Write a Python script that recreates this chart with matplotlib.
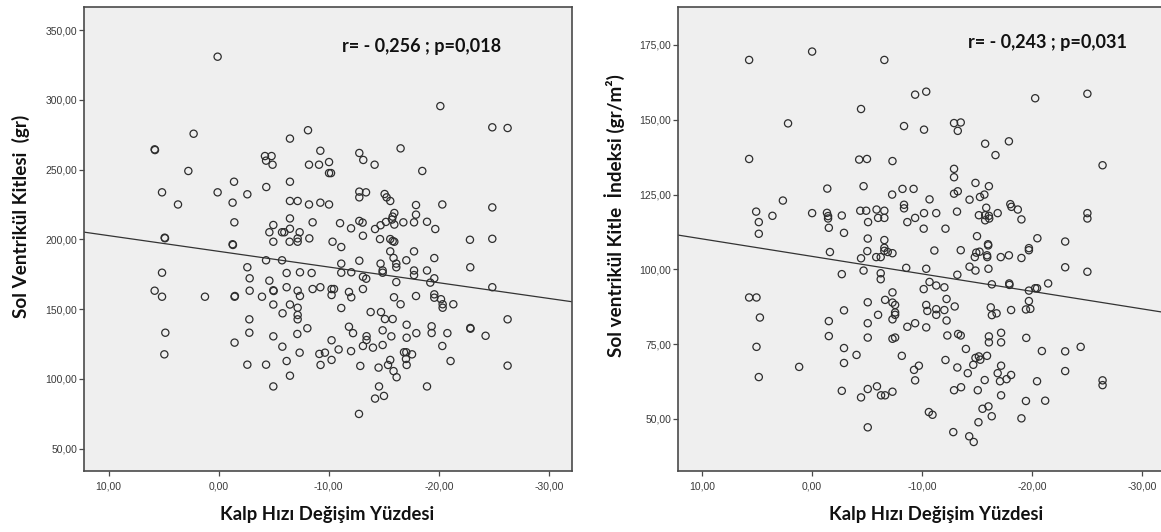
import numpy as np
import matplotlib
matplotlib.use("Agg")
import matplotlib.pyplot as plt
from matplotlib.ticker import FuncFormatter

# ---- data -------------------------------------------------------------
x_label = "Kalp Hızı Değişim Yüzdesi"
left_ylabel = "Sol Ventrikül Kitlesi  (gr)"
right_ylabel = "Sol ventrikül Kitle  İndeksi (gr/m²)"
left_stat = "r= - 0,256 ; p=0,018"
right_stat = "r= - 0,243 ; p=0,031"

x_ticks = [10, 0, -10, -20, -30]
left_yticks = [50, 100, 150, 200, 250, 300, 350]
right_yticks = [50, 75, 100, 125, 150, 175]

# heart-rate change (%) vs LV mass (gr)
lvm_hr = [
    0.09, 2.27, 5.81, 5.78, 2.75, 5.14, 3.69, 0.09, -1.40, -1.27, -2.61, -1.43,
    4.90, 4.87, -4.33, -4.21, -4.81, -4.31, -4.90, -6.48, -8.12, -9.24, -8.21,
    -9.12, -10.03, -10.03, -10.21, -6.48, -6.48, -7.18, -8.21, -9.24, -10.03,
    -6.48, -8.54, -4.97, -4.61, -5.76, -5.97, -6.48, -7.36,
    -1.27, -1.30, -4.97, -6.45, -7.18, -7.18, -8.24, -10.35, -4.31, -5.76,
    -2.61, 5.14, -2.82, -4.61, -6.18, -7.39, -8.45, 5.81, 5.14, 1.24, -1.45,
    -1.48, -2.82, -3.94, -4.97, -5.00, -6.18, -7.18, -7.39, -8.54, -9.24,
    -10.26, -10.48, -10.26, -4.97, -6.48, -5.81, -7.18, -7.18, -7.18, -2.79,
    -2.79, 4.84, 4.93, -1.45, -4.97, -7.15, -8.06, -5.79, -7.36, -6.18, -2.61,
    -4.31, -6.48, -4.97, -10.26, -9.15, -9.66, -9.26, -10.26,
    -11.14, -13.11, -14.66, -15.59, -15.81, -15.96, -22.83, -24.86, -15.59,
    -17.75, -15.89, -17.05, -19.59, -12.78, -11.14, -14.71, -16.14, -16.14,
    -14.90, -14.90, -17.75, -17.75, -18.93, -22.86, -11.14, -12.05, -13.11,
    -13.41, -19.59, -16.14, -19.23, -24.86, -13.11, -11.84, -12.05, -15.93,
    -17.93, -19.59, -19.59, -20.20, -20.35, -20.35, -21.32, -16.53, -11.14,
    -13.81, -14.75, -15.11, -15.81, -26.25, -17.08, -19.35, -19.35, -22.86,
    -22.88, -24.25, -11.84, -12.21, -13.44, -13.44, -14.90, -15.69, -17.08,
    -17.96, -20.78, -13.11, -14.02, -14.90, -20.32, -10.90, -12.03, -12.87,
    -14.53, -15.39, -15.59, -15.89, -16.17, -16.84, -17.05, -17.57, -17.02,
    -17.08, -21.07, -26.25, -14.57, -18.93, -14.21, -15.02, -12.75,
    -20.14, -24.86, -26.25, -16.53, -12.78, -13.14, -14.17, -18.50, -12.78,
    -13.39, -12.78, -15.08, -15.26, -15.59, -11.03, -17.93, -17.93, -18.93,
    -20.32, -24.86, -15.96, -15.81, -15.75, -15.96, -12.78, -13.08, -14.71,
    -15.20, -16.78, -17.75, -12.03, -14.21, -19.68,
]
lvm = [
    330.9, 275.7, 264.5, 264.0, 249.0, 233.7, 225.0, 233.7, 241.3, 226.3, 232.3,
    212.2, 201.2, 200.8, 237.5, 259.7, 259.7, 256.4, 253.5, 272.2, 278.2, 263.5,
    253.5, 253.5, 255.4, 247.5, 247.5, 241.3, 227.5, 227.5, 225.0, 226.3, 225.0,
    215.0, 212.2, 210.3, 205.1, 205.1, 205.1, 207.6, 205.1,
    196.5, 196.0, 198.3, 198.3, 198.3, 200.7, 200.7, 198.3, 185.0, 185.0,
    180.0, 176.1, 172.1, 170.4, 175.9, 176.4, 175.9, 163.2, 158.9, 158.9, 158.9,
    159.4, 163.2, 158.9, 163.5, 163.0, 165.7, 163.2, 159.4, 164.4, 165.7,
    164.4, 164.4, 160.1, 153.3, 153.3, 147.0, 151.0, 145.8, 142.7, 142.7,
    133.1, 133.1, 117.6, 126.0, 130.5, 132.2, 136.3, 123.1, 118.8, 112.8, 110.2,
    110.2, 102.3, 94.6, 127.7, 117.9, 118.8, 110.0, 113.6,
    194.5, 202.6, 200.2, 200.2, 198.8, 198.3, 199.7, 200.4, 191.4,
    191.4, 186.7, 185.0, 186.6, 184.7, 182.6, 182.6, 182.6, 180.0,
    177.7, 176.1, 177.7, 174.4, 177.7, 180.0, 176.1, 176.4, 173.2,
    171.8, 172.1, 169.4, 169.0, 165.7, 164.4, 162.3, 158.5, 158.5,
    159.4, 160.6, 158.2, 157.1, 153.5, 151.0, 153.5, 153.5, 150.8,
    147.9, 147.9, 142.9, 142.9, 142.7, 138.8, 137.7, 132.9, 136.5,
    136.0, 130.9, 137.4, 132.8, 130.6, 127.9, 134.8, 130.5, 129.5,
    132.8, 132.8, 123.6, 122.4, 124.3, 123.6, 121.1, 119.9, 109.3,
    108.1, 110.0, 113.6, 105.6, 101.2, 119.1, 119.1, 117.6, 114.3,
    110.0, 112.8, 109.5, 94.6, 94.6, 85.9, 87.8, 74.9,
    295.5, 280.3, 279.8, 265.2, 261.9, 256.9, 253.5, 249.0, 234.2,
    233.7, 230.1, 232.5, 230.1, 227.5, 211.6, 224.6, 217.7, 212.6,
    225.0, 222.9, 218.9, 216.3, 214.2, 210.6, 213.2, 212.0, 210.1,
    212.5, 212.2, 212.2, 207.9, 207.4, 207.4,
]

# heart-rate change (%) vs LV mass index (gr/m2)
lvmi_hr = [
    5.73, 0.00, -6.57, -10.38, -9.37, -25.04, -20.29, -4.45, 2.19, -8.36, -10.18,
    -12.91, -13.52, -13.25, -15.74, -17.90, -16.68, 5.73, -4.28, -4.99, -7.31,
    -26.42, -12.91, -12.91, -1.38, -4.68, -8.22, -9.23, -14.86, -16.08, 2.66,
    -10.68, -7.28, -12.91, -13.25, -14.32, -15.27, -15.67, 5.09, 3.61, 4.85,
    4.85, 0.00, -1.35, -1.45, -1.45, -2.70, -1.52, -2.90, -4.38, -4.92, -5.86,
    -6.57, -6.00, -6.57, -5.09, -8.36, -8.36, -9.37, -8.66, -10.18, -11.29,
    -10.15, -12.13, -13.18, -15.17, -15.74, -16.08, -16.88, -15.84, -15.74,
    -16.11, -18.03, -18.13, -18.71, -19.04, -25.04, -25.04, -5.06, -6.57,
    -6.57, -6.57, -15.00, -16.00, -16.02, -20.49, -23.02, -1.62, -5.02, -4.45,
    -5.83, -6.24, -7.31, -6.88, -11.12, -13.52, -14.93, -15.23, -14.80, -15.91,
    -15.93, -17.16, -17.90, -19.04, -19.72, -19.72,
    -2.70, -4.68, -6.24, -6.24, -8.56, -10.38, -13.21, -14.32, -14.86, -16.04,
    -23.02, -25.04, 5.73, 5.06, 4.75, 5.06, 4.85, 1.18, -1.52, -1.52, -2.90,
    -2.90, -2.90, -2.70, -4.04, -4.45, -5.06, -5.06, -5.06, -5.06, -5.06,
    -5.90, -6.00, -6.27, -6.64, -6.64, -7.31, -7.31, -7.55, -7.55, -7.31,
    -7.55, -7.31, -7.55, -7.31, -8.16, -8.66, -9.37, -9.27, -9.37, -9.71,
    -10.15, -10.68, -10.38, -10.48, -10.38, -11.29, -12.03, -11.29, -11.29,
    -12.03, -12.23, -12.23, -12.97, -12.30, -13.28, -13.52, -12.13, -13.21,
    -13.99, -14.16, -10.62, -10.95, -12.91, -13.55, -12.84, -14.29, -14.70,
    -14.66, -14.86, -15.17, -15.91, -15.30, -15.07, -15.13, -15.70, -15.50,
    -16.04, -16.34, -16.08, -16.08, -16.35, -16.25, -16.35, -16.78, -16.88,
    -17.09, -17.19, -17.19, -17.19, -17.19, -17.69, -18.10, -17.93, -17.95,
    -18.10, -19.04, -19.45, -19.85, -19.72, -19.48, -19.45, -19.72, -20.29,
    -20.46, -20.46, -20.90, -21.20, -21.47, -23.02, -23.02, -24.43, -26.42,
    -26.42,
]
lvmi = [
    170.0, 172.8, 170.0, 159.4, 158.4, 158.7, 157.2, 153.6, 148.8, 147.9, 146.7,
    148.9, 149.1, 146.3, 142.0, 142.8, 138.2, 136.9, 136.7, 136.9, 136.2,
    134.8, 133.6, 130.8, 127.0, 127.8, 126.9, 126.9, 128.9, 127.8, 123.0,
    123.4, 125.0, 125.3, 126.1, 123.3, 124.2, 125.0, 119.3, 117.9, 115.8,
    111.9, 118.8, 118.9, 117.8, 117.0, 118.0, 113.9, 112.2, 119.6, 119.6, 120.0,
    119.6, 117.2, 117.2, 115.8, 121.6, 120.4, 117.2, 115.8, 118.8, 118.8,
    113.6, 113.6, 119.3, 118.1, 118.1, 117.9, 118.8, 120.6, 116.4,
    117.0, 121.8, 120.9, 120.0, 116.7, 118.8, 117.0, 110.3, 109.8,
    107.2, 106.2, 111.1, 108.4, 108.0, 110.4, 109.3, 105.8, 106.1, 103.7,
    104.1, 104.1, 105.4, 105.8, 106.3, 106.4, 105.6, 105.9, 104.1, 104.7,
    104.1, 104.1, 104.7, 103.8, 107.1, 106.4,
    98.4, 99.6, 98.7, 96.7, 100.5, 100.2, 98.2, 100.9, 99.6, 100.2,
    100.7, 99.2, 90.6, 90.6, 83.9, 74.1, 64.0, 67.4, 82.7, 77.7, 86.3,
    73.7, 68.7, 59.4, 71.4, 57.2, 89.0, 82.0, 77.2, 60.0, 47.2,
    60.9, 84.8, 57.9, 57.9, 89.8, 92.3, 88.9, 88.1, 85.6, 83.3,
    84.8, 76.8, 77.2, 59.1, 71.1, 80.8, 82.0, 66.4, 62.9, 67.8,
    93.4, 95.8, 88.1, 86.1, 80.6, 94.6, 94.0, 86.7, 84.8,
    86.4, 90.1, 82.9, 87.6, 77.9, 78.4, 77.9, 69.7, 67.2,
    73.4, 65.3, 52.3, 51.4, 59.6, 60.6, 45.6, 44.2, 42.3,
    68.1, 70.4, 70.9, 71.1, 69.8, 59.6, 48.9, 63.0, 53.4,
    54.2, 50.9, 77.6, 75.6, 95.0, 87.3, 84.7, 85.3, 65.3,
    62.6, 67.8, 75.6, 78.8, 57.9, 63.3, 64.7, 95.3, 94.8,
    86.4, 50.2, 86.6, 86.8, 89.4, 77.1, 56.0, 92.9, 93.7,
    93.7, 62.6, 72.7, 56.1, 95.3, 72.6, 66.0, 74.1, 62.9,
    61.3,
]

# ---- styling ----------------------------------------------------------
W, H = 1161, 532
DPI = 100
panel_bg = "#efefef"
frame_col = "#4a4a4a"
mark_col = "#2e2e2e"
tick_col = "#3a3a3a"
label_font = ["Lato", "DejaVu Sans"]
tick_font = ["Liberation Sans", "DejaVu Sans"]

x_range = (12.2, -32.1)


def comma_fmt(v, _pos=None):
    return f"{v:.2f}".replace(".", ",")


def px_box(left, top, right, bottom):
    return [left / W, 1 - bottom / H, (right - left) / W, (bottom - top) / H]


fig = plt.figure(figsize=(W / DPI, H / DPI), dpi=DPI)
fig.patch.set_facecolor("white")

panels = [
    dict(box=px_box(84.3, 7.3, 572, 471), x=lvm_hr, y=lvm, ylim=(34.0, 366.3),
         yticks=left_yticks, ylabel=left_ylabel, stat=left_stat,
         stat_pos=(0.691, 0.915), ylab_x=-0.111, xlab_x=0.498),
    dict(box=px_box(678, 7.3, 1165, 471), x=lvmi_hr, y=lvmi, ylim=(32.6, 187.6),
         yticks=right_yticks, ylabel=right_ylabel, stat=right_stat,
         stat_pos=(0.758, 0.925), ylab_x=-0.109, xlab_x=0.529),
]

for p in panels:
    ax = fig.add_axes(p["box"])
    ax.set_facecolor(panel_bg)
    ax.set_xlim(*x_range)
    ax.set_ylim(*p["ylim"])

    ax.scatter(p["x"], p["y"], s=27, facecolors="none", edgecolors=mark_col,
               linewidths=0.9, zorder=3)

    # least-squares fit line across the full x range
    slope, intercept = np.polyfit(p["x"], p["y"], 1)
    xs = np.array(x_range)
    ax.plot(xs, intercept + slope * xs, color="#333333", lw=0.9, zorder=2)

    ax.set_xticks(x_ticks)
    ax.set_yticks(p["yticks"])
    ax.xaxis.set_major_formatter(FuncFormatter(comma_fmt))
    ax.yaxis.set_major_formatter(FuncFormatter(comma_fmt))
    ax.tick_params(direction="out", length=3.8, width=0.9, color=frame_col,
                   labelsize=7.5, labelcolor=tick_col, pad=1.2)
    for lab in ax.get_xticklabels() + ax.get_yticklabels():
        lab.set_family(tick_font)
    ax.tick_params(axis="x", pad=4)

    for side in ("top", "right", "bottom", "left"):
        ax.spines[side].set_color(frame_col)
        ax.spines[side].set_linewidth(1.2)

    ax.set_xlabel(x_label, family=label_font, fontweight="bold", fontsize=13.3,
                  color="#111111")
    ax.xaxis.set_label_coords(p["xlab_x"], -0.076)
    ax.set_ylabel(p["ylabel"], family=label_font, fontweight="bold", fontsize=13.6,
                  color="#111111")
    ax.yaxis.set_label_coords(p["ylab_x"], 0.55)

    ax.text(p["stat_pos"][0], p["stat_pos"][1], p["stat"], transform=ax.transAxes,
            ha="center", va="center", family=label_font, fontweight="bold",
            fontsize=13, color="#111111")

fig.savefig("out.png", dpi=DPI, facecolor="white")
